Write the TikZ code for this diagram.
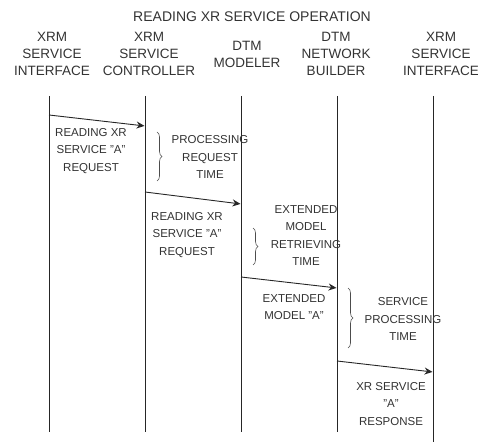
\documentclass[tikz,border=0pt]{standalone}
\usepackage{fontspec}
\setmainfont{Liberation Sans}
\usetikzlibrary{positioning,arrows.meta,decorations.pathreplacing}

\begin{document}
\begin{tikzpicture}[
        x=1pt, y=1pt,
        >=Stealth,
        head/.style={align=center, text=black!80, font=\fontsize{13.5}{17}\selectfont},
        msg/.style={align=center, text=black!80, font=\fontsize{11.5}{17.5}\selectfont},
        life/.style={line width=0.8pt, draw=black!85},
        arrow/.style={->, line width=0.9pt, draw=black!85, shorten >=0.5pt, >={Stealth[length=8pt, width=7pt]}},
        bracebar/.style={decorate, decoration={brace, amplitude=5pt}, line width=0.6pt, draw=black!70},
    ]
    \useasboundingbox (0,0) rectangle (478,444);

    % title
    \node[head, font=\fontsize{14}{17}\selectfont] (title) at (252,427) {READING XR SERVICE OPERATION};

    % headers
    \node[head] (xrmsi)  at (52,390)  {XRM\\SERVICE\\INTERFACE};
    \node[head] (xrmsc)  at (149,390) {XRM\\SERVICE\\CONTROLLER};
    \node[head] (dtmm)   at (247,390) {DTM\\MODELER};
    \node[head] (dtmnb)  at (336,390) {DTM\\NETWORK\\BUILDER};
    \node[head] (xrmsi2) at (441,390) {XRM\\SERVICE\\INTERFACE};

    % lifelines
    \foreach \i/\x in {1/49,2/145,3/241,4/337} {
            \coordinate (top\i) at (\x,348);
            \coordinate (bot\i) at (\x,12);
        }
    \coordinate (top5) at (433,348);
    \coordinate (bot5) at (433,2);
    \foreach \i in {1,...,5}
        \draw[life] (top\i) -- (bot\i);

    % messages
    \coordinate (m1s) at (49,329);  \coordinate (m1e) at (145,318);
    \coordinate (m2s) at (145,252); \coordinate (m2e) at (241,240);
    \coordinate (m3s) at (241,167); \coordinate (m3e) at (337,156);
    \coordinate (m4s) at (337,83);  \coordinate (m4e) at (433,72);
    \foreach \m in {1,...,4}
        \draw[arrow] (m\m s) -- (m\m e);

    \node[msg] (req1) at (91,293)  {READING XR\\SERVICE \symbol{34}A\symbol{34}\\REQUEST};
    \node[msg] (req2) at (187,209) {READING XR\\SERVICE \symbol{34}A\symbol{34}\\REQUEST};
    \node[msg] (ext)  at (294,137) {EXTENDED\\MODEL \symbol{34}A\symbol{34}};
    \node[msg] (resp) at (391,40)  {XR SERVICE\\\symbol{34}A\symbol{34}\\RESPONSE};

    % braces
    \coordinate (b1t) at (157,312); \coordinate (b1b) at (157,263);
    \coordinate (b2t) at (253,216); \coordinate (b2b) at (253,179);
    \coordinate (b3t) at (348,156); \coordinate (b3b) at (348,96);
    \foreach \b in {1,2,3}
        \draw[bracebar] (b\b t) -- (b\b b);

    \node[msg] (proc)  at (210,287)   {PROCESSING\\REQUEST\\TIME};
    \node[msg] (retr)  at (306,208.5) {EXTENDED\\MODEL\\RETRIEVING\\TIME};
    \node[msg] (serv)  at (403,125)   {SERVICE\\PROCESSING\\TIME};

\end{tikzpicture}
\end{document}
